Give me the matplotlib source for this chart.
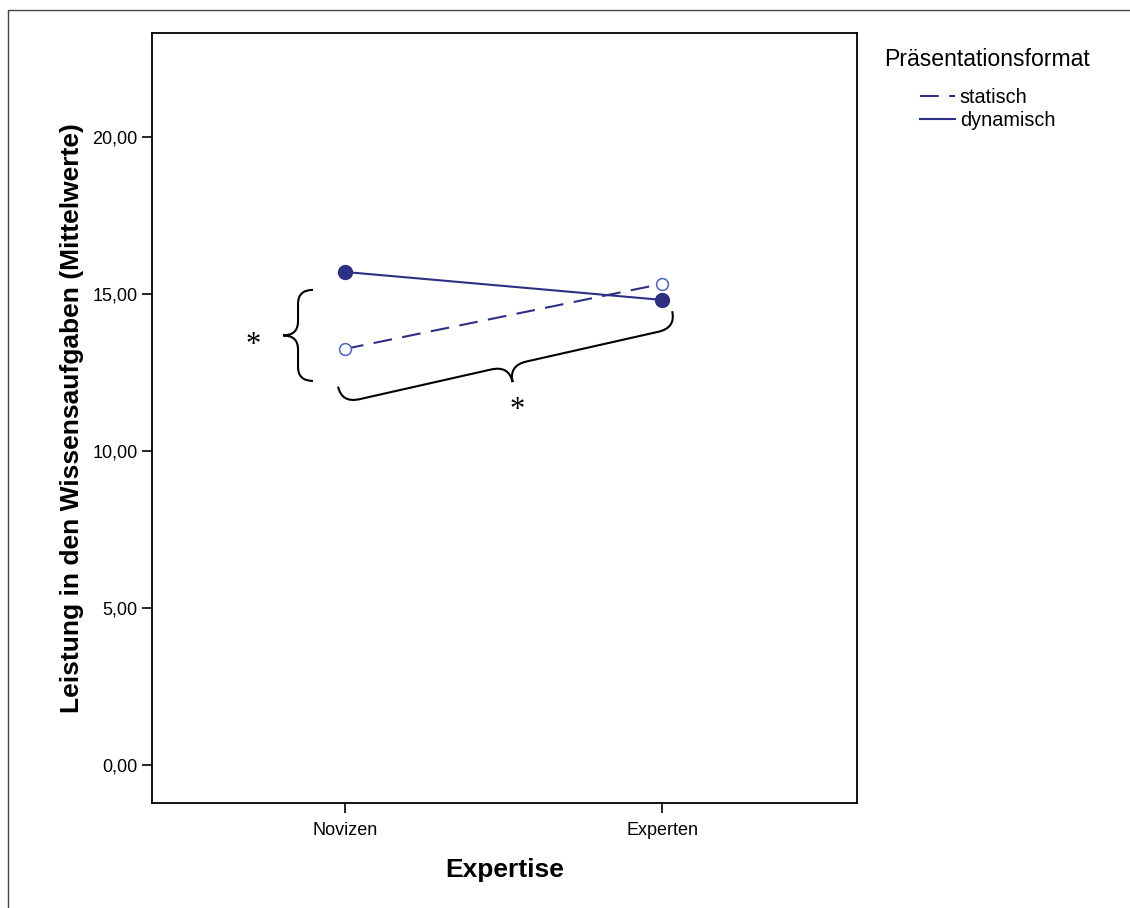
import numpy as np
import matplotlib.pyplot as plt
from matplotlib.lines import Line2D
from matplotlib.path import Path
from matplotlib.patches import PathPatch

plt.rcParams['font.family'] = ['Liberation Sans', 'DejaVu Sans']

# Daten (Mittelwerte)
kategorien = ['Novizen', 'Experten']
statisch = [13.25, 15.32]
dynamisch = [15.70, 14.81]
y_ticks = [0, 5, 10, 15, 20]

linie = '#2e3083'
offen = '#4a64c4'

fig = plt.figure(figsize=(11.3, 9.08), dpi=100)
ax = fig.add_axes([0.1345, 0.1156, 0.6239, 0.8481])

x = np.arange(len(kategorien))
ax.plot(x, statisch, color=linie, lw=1.5, dashes=(9, 5),
        marker='o', ms=8.5, mfc='white', mec=offen, mew=1.1, label='statisch')
ax.plot(x, dynamisch, color=linie, lw=1.5,
        marker='o', ms=10, mfc=linie, mec=linie, label='dynamisch')

ax.set_xlim(-0.609, 1.615)
ax.set_ylim(-1.21, 23.31)
ax.set_xticks(x)
ax.set_xticklabels(kategorien)
ax.set_yticks(y_ticks)
ax.set_yticklabels([('%.2f' % v).replace('.', ',') for v in y_ticks])
ax.tick_params(direction='out', length=7, width=1.2, labelsize=13, color='black')
ax.tick_params(axis='x', pad=7)
for s in ax.spines.values():
    s.set_linewidth(1.3)

ax.set_xlabel('Expertise', fontsize=19, fontweight='bold', labelpad=13)
ax.set_ylabel('Leistung in den Wissensaufgaben (Mittelwerte)', fontsize=19,
              fontweight='bold', labelpad=6)

# Legende
fig.text(884 / 1130, 1 - 60 / 908, 'Präsentationsformat', fontsize=16.6,
         ha='left', va='center')
fig.legend(handles=[Line2D([], [], color=linie, lw=1.5, dashes=(9, 5)),
                    Line2D([], [], color=linie, lw=1.5)],
           labels=['statisch', 'dynamisch'], loc='upper left',
           bbox_to_anchor=(920 / 1130, 1 - 88 / 908), frameon=False,
           fontsize=14.3, handlelength=1.75, handletextpad=0.25,
           labelspacing=0.22, borderpad=0, borderaxespad=0)


def klammer(ax, p0, p1, h, r=14, **kw):
    # geschweifte Klammer zwischen p0 und p1 (Datenkoordinaten), h in Pixeln
    t = ax.transData
    a = t.transform(p0)
    b = t.transform(p1)
    L = np.hypot(*(b - a))
    u = (b - a) / L
    v = np.array([u[1], -u[0]])
    m = L / 2
    pts = [(0, 0), (0, h / 2), (r, h / 2),
           (m - r, h / 2), (m, h / 2), (m, h),
           (m, h / 2), (m + r, h / 2),
           (L - r, h / 2), (L, h / 2), (L, 0)]
    codes = [Path.MOVETO, Path.CURVE3, Path.CURVE3,
             Path.LINETO, Path.CURVE3, Path.CURVE3,
             Path.CURVE3, Path.CURVE3,
             Path.LINETO, Path.CURVE3, Path.CURVE3]
    disp = np.array([a + s * u + w * v for s, w in pts])
    data = t.inverted().transform(disp)
    ax.add_patch(PathPatch(Path(data, codes), fill=False, lw=1.5,
                           color='black', clip_on=False, **kw))


fig.canvas.draw()
klammer(ax, (-0.101, 15.13), (-0.101, 12.23), 30)
klammer(ax, (-0.022, 12.05), (1.032, 14.45), 34, r=18)
ax.text(-0.29, 13.35, '*', fontsize=22, family='Liberation Serif',
        ha='center', va='center')
ax.text(0.542, 11.3, '*', fontsize=22, family='Liberation Serif',
        ha='center', va='center')

# äußerer Rahmen
fig.add_artist(Line2D([8 / 1130, 8 / 1130, 1], [0, 1 - 10 / 908, 1 - 10 / 908],
                      transform=fig.transFigure, color='#444444', lw=1))

fig.savefig('out.png', dpi=100)
